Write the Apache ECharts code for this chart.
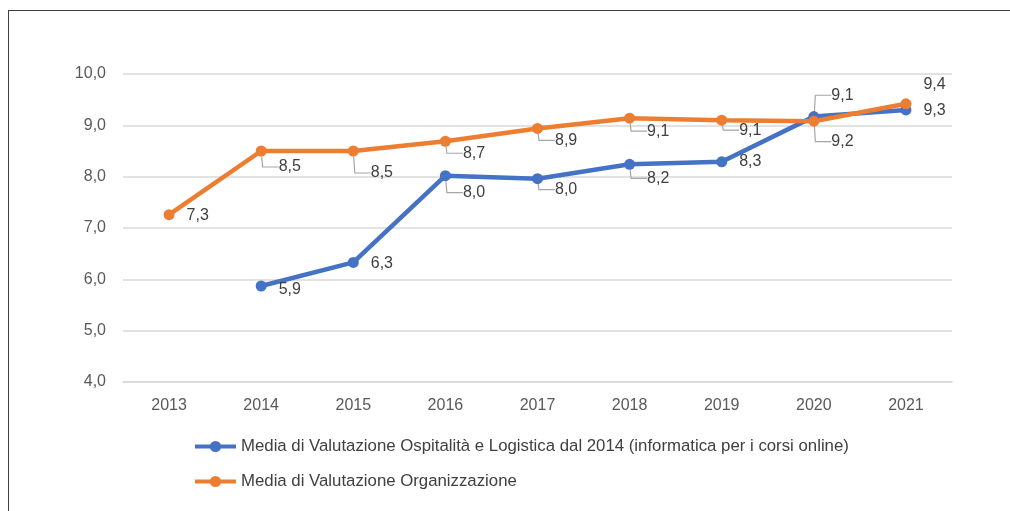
<!DOCTYPE html>
<html>
<head>
<meta charset="utf-8">
<script src="https://cdn.jsdelivr.net/npm/echarts@6/dist/echarts.min.js"></script>
<style>
  html, body { margin: 0; padding: 0; background: #fff; }
  #chart { position: absolute; left: 0; top: 0; width: 1010px; height: 511px; }
  #frame { position: absolute; left: 8px; top: 10px; width: 1010px; height: 520px;
           border-left: 1px solid #3f3f3f; border-top: 1px solid #3f3f3f; pointer-events: none; }
</style>
</head>
<body>
<div id="chart"></div>
<div id="frame"></div>
<script>
const years = ['2013', '2014', '2015', '2016', '2017', '2018', '2019', '2020', '2021']
const ospitalita = [null, 5.87, 6.33, 8.02, 7.96, 8.24, 8.29, 9.17, 9.30]
const organizzazione = [7.26, 8.50, 8.50, 8.69, 8.94, 9.14, 9.10, 9.08, 9.42]
const seriesNames = [
  'Media di Valutazione Ospitalità e Logistica dal 2014 (informatica per i corsi online)',
  'Media di Valutazione Organizzazione'
]

// label placement, like the Excel original (dy in px, leader line on/off)
const blueLabelDy = [0, 4, 1, 17, 11, 14, 0, 25, 1]
const blueLeader = [0, 0, 0, 1, 1, 1, 0, 1, 0]
const orangeLabelDy = [1, 16, 22, 12, 12, 13, 10, -26, -19]
const orangeLeader = [0, 1, 1, 1, 1, 1, 1, 1, 0]

const FONT = '"Liberation Sans", Arial, sans-serif'

function fmt(v) {
  return v.toFixed(1).replace('.', ',')
}

function buildData(values, leaders) {
  return values.map((v, i) => {
    if (v == null) return null
    return {
      value: v,
      labelLine: { show: !!leaders[i] }
    }
  })
}

function makeSeries(name, values, dys, leaders, color) {
  return {
    name: name,
    type: 'line',
    data: buildData(values, leaders),
    symbol: 'circle',
    symbolSize: 11,
    showAllSymbol: true,
    connectNulls: false,
    lineStyle: { color: color, width: 4.5 },
    itemStyle: { color: color },
    label: {
      show: true,
      position: 'right',
      distance: 12,
      color: '#404040',
      fontFamily: FONT,
      fontSize: 16,
      formatter: (p) => fmt(p.value)
    },
    labelLayout: (params) => ({ dy: dys[params.dataIndex] }),
    labelLine: {
      show: false,
      length2: 16,
      lineStyle: { color: '#a6a6a6', width: 1.2 }
    },
    emphasis: { disabled: true },
    animation: false
  }
}

const chart = echarts.init(document.getElementById('chart'), null, { renderer: 'canvas' })

chart.setOption({
  backgroundColor: '#fff',
  animation: false,
  grid: { left: 123, right: 58, top: 74, bottom: 129 },
  legend: {
    orient: 'vertical',
    left: 193,
    top: 438,
    padding: 0,
    itemWidth: 41,
    itemHeight: 14,
    itemGap: 18,
    lineStyle: { width: 4 },
    textStyle: { color: '#404040', fontFamily: FONT, fontSize: 16.8 },
    data: seriesNames
  },
  xAxis: {
    type: 'category',
    data: years,
    boundaryGap: true,
    axisLine: { show: true, lineStyle: { color: '#d9d9d9', width: 1.5 } },
    axisTick: { show: false },
    axisLabel: { color: '#595959', fontFamily: FONT, fontSize: 16, margin: 16 }
  },
  yAxis: {
    type: 'value',
    min: 4,
    max: 10,
    interval: 1,
    axisLine: { show: false },
    axisTick: { show: false },
    splitLine: { lineStyle: { color: '#d9d9d9', width: 1.5 } },
    axisLabel: {
      color: '#595959',
      fontFamily: FONT,
      fontSize: 16,
      margin: 17,
      formatter: (v) => fmt(v)
    }
  },
  series: [
    makeSeries(seriesNames[0], ospitalita, blueLabelDy, blueLeader, '#4472c4'),
    makeSeries(seriesNames[1], organizzazione, orangeLabelDy, orangeLeader, '#ed7d31')
  ]
})
</script>
</body>
</html>
